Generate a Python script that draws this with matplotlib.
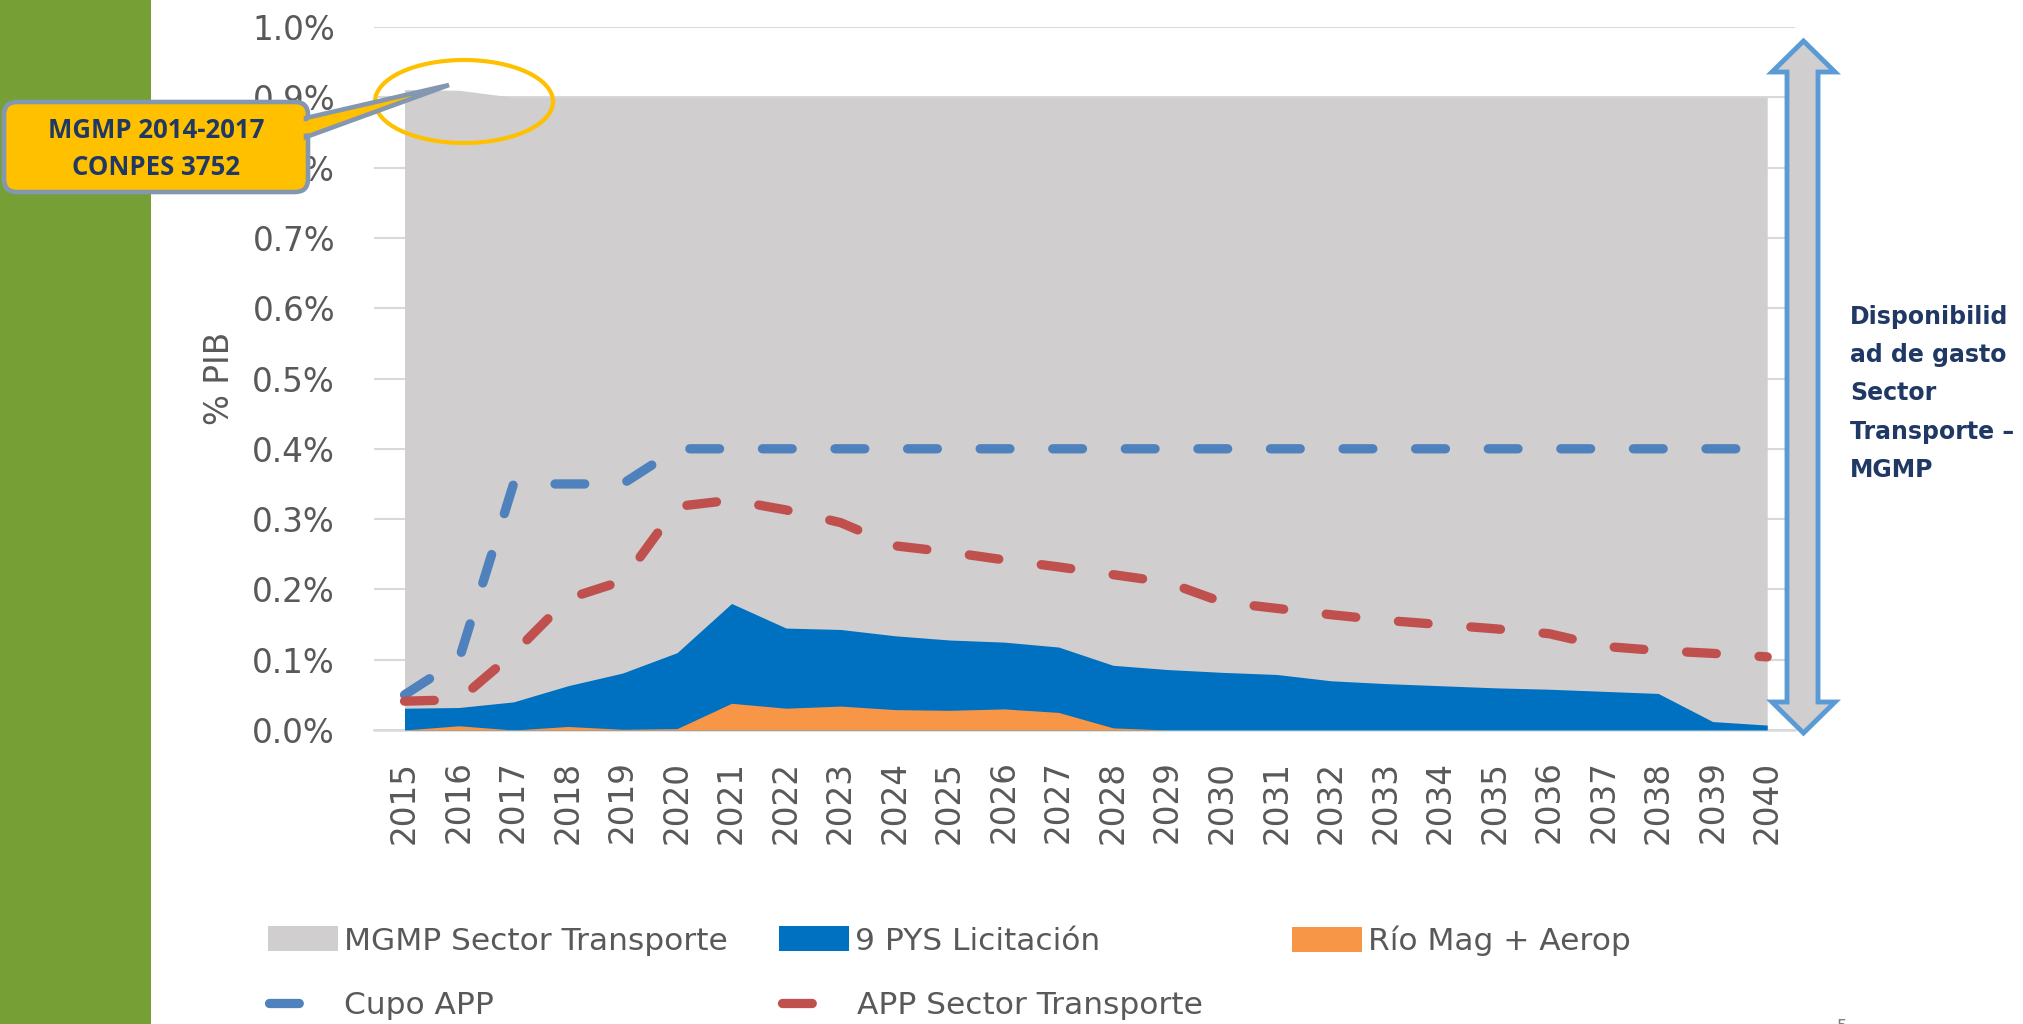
import numpy as np
import matplotlib
matplotlib.use('Agg')
import matplotlib.pyplot as plt
from matplotlib.patches import Ellipse, FancyBboxPatch, Polygon, Rectangle
from matplotlib.ticker import FuncFormatter

# ---------------- data (% of GDP) ----------------
years = ['2015', '2016', '2017', '2018', '2019', '2020', '2021', '2022', '2023',
         '2024', '2025', '2026', '2027', '2028', '2029', '2030', '2031', '2032',
         '2033', '2034', '2035', '2036', '2037', '2038', '2039', '2040']
mgmp = [0.911, 0.910, 0.900, 0.900, 0.900, 0.900, 0.900, 0.900, 0.900, 0.900,
        0.900, 0.900, 0.900, 0.900, 0.900, 0.900, 0.900, 0.900, 0.900, 0.900,
        0.900, 0.900, 0.900, 0.900, 0.900, 0.900]
pys = [0.031, 0.032, 0.040, 0.063, 0.081, 0.110, 0.180, 0.145, 0.143, 0.134,
       0.128, 0.125, 0.118, 0.092, 0.086, 0.082, 0.079, 0.070, 0.066, 0.063,
       0.060, 0.058, 0.055, 0.052, 0.012, 0.007]
rio = [0.000, 0.006, 0.000, 0.005, 0.001, 0.002, 0.038, 0.031, 0.034, 0.029,
       0.028, 0.030, 0.025, 0.003, 0.000, 0.000, 0.000, 0.000, 0.000, 0.000,
       0.000, 0.000, 0.000, 0.000, 0.000, 0.000]
cupo = [0.05, 0.10, 0.35, 0.35, 0.35, 0.40, 0.40, 0.40, 0.40, 0.40, 0.40, 0.40,
        0.40, 0.40, 0.40, 0.40, 0.40, 0.40, 0.40, 0.40, 0.40, 0.40, 0.40, 0.40,
        0.40, 0.40]
app = [0.041, 0.043, 0.109, 0.187, 0.212, 0.318, 0.327, 0.313, 0.295, 0.262,
       0.253, 0.242, 0.232, 0.221, 0.210, 0.182, 0.173, 0.164, 0.156, 0.150,
       0.144, 0.137, 0.119, 0.113, 0.109, 0.104]
yticks = [0.0, 0.1, 0.2, 0.3, 0.4, 0.5, 0.6, 0.7, 0.8, 0.9, 1.0]

series_labels = ['MGMP Sector Transporte', '9 PYS Licitación', 'Río Mag + Aerop',
                 'Cupo APP', 'APP Sector Transporte']

# ---------------- style ----------------
plt.rcParams['font.family'] = ['DejaVu Sans']
TXT = '#595959'
NAVY = '#1F3864'
W, H = 2023, 1024

fig = plt.figure(figsize=(W / 100, H / 100), dpi=100)
fig.patch.set_facecolor('white')

ax = fig.add_axes([374 / W, 1 - 730 / H, (1795 - 374) / W, (730 - 27) / H])
x = np.arange(len(years))

a1 = ax.fill_between(x, 0, mgmp, color='#D0CECE', lw=0, zorder=2)
a2 = ax.fill_between(x, 0, pys, color='#0070C0', lw=0, zorder=3)
a3 = ax.fill_between(x, 0, rio, color='#F79646', lw=0, zorder=4)
l1, = ax.plot(x, cupo, color='#4F81BD', lw=6.7, dashes=(3.2, 4.6),
              dash_capstyle='round', solid_capstyle='round', zorder=5)
l2, = ax.plot(x, app, color='#C0504D', lw=6.7, dashes=(3.2, 4.6),
              dash_capstyle='round', solid_capstyle='round', zorder=6)

ax.set_xlim(-0.56, 25.51)
ax.set_ylim(0, 1.0)
ax.set_yticks(yticks)
ax.yaxis.set_major_formatter(FuncFormatter(lambda v, p: f'{v:.1f}%'))
ax.set_xticks(x)
ax.set_xticklabels(years, rotation=90)
ax.tick_params(axis='y', length=0, pad=28, labelsize=23.5, labelcolor=TXT)
ax.tick_params(axis='x', length=0, pad=22, labelsize=23.5, labelcolor=TXT)
ax.grid(axis='y', color='#D9D9D9', lw=1.5)
ax.set_axisbelow(True)
for s in ['top', 'right', 'left']:
    ax.spines[s].set_visible(False)
ax.spines['bottom'].set_color('#D9D9D9')
ax.spines['bottom'].set_linewidth(1.8)
ax.patch.set_alpha(0)

ax.set_ylabel('% PIB', fontsize=23.5, color=TXT)
ax.yaxis.label.set_va('center')
ax.yaxis.set_label_coords(-0.109, 0.5)

# ---------------- legend ----------------
def put_legend(handle, label, xpx, ypx, kind):
    if kind == 'patch':
        kw = dict(handlelength=2.24, handleheight=0.83, handletextpad=0.19)
    else:
        kw = dict(handlelength=1.02, handletextpad=1.39)
    fig.legend([handle], [label], loc='center left',
               bbox_to_anchor=(xpx / W, 1 - ypx / H), frameon=False,
               borderpad=0, borderaxespad=0,
               prop={'family': 'DejaVu Sans', 'size': 22.5},
               labelcolor=TXT, **kw)

put_legend(a1, series_labels[0], 268, 941, 'patch')
put_legend(a2, series_labels[1], 779, 941, 'patch')
put_legend(a3, series_labels[2], 1292, 941, 'patch')
put_legend(l1, series_labels[3], 269, 1005, 'line')
put_legend(l2, series_labels[4], 782, 1005, 'line')

# ---------------- overlay decorations ----------------
ov = fig.add_axes([0, 0, 1, 1], zorder=10)
ov.set_xlim(0, W)
ov.set_ylim(H, 0)
ov.axis('off')
ov.patch.set_alpha(0)

# green side band
ov.add_patch(Rectangle((0, 0), 151, H, fc='#76A035', ec='none', zorder=1))

# yellow ellipse
ov.add_patch(Ellipse((464, 101.5), 178, 83, fill=False, ec='#FFC000', lw=3, zorder=2))

# callout
ov.add_patch(FancyBboxPatch((4, 102), 304, 90,
                            boxstyle='round,pad=0,rounding_size=13',
                            fc='#FFC000', ec='#8497B0', lw=3.3, zorder=3))
ov.add_patch(Polygon([(306, 118), (449, 85), (306, 137)], closed=True,
                     fc='#FFC000', ec='#8497B0', lw=3.3, joinstyle='miter', zorder=4))
ov.add_patch(Polygon([(296, 121.3), (306, 121.3), (400, 99.8), (306, 133.6), (296, 133.6)],
                     closed=True, fc='#FFC000', ec='none', zorder=5))
ov.text(156, 138, 'MGMP 2014-2017', ha='center', va='baseline', family='Open Sans',
        fontweight='bold', fontsize=18.5, color=NAVY, zorder=6)
ov.text(156, 175, 'CONPES 3752', ha='center', va='baseline', family='Open Sans',
        fontweight='bold', fontsize=18.5, color=NAVY, zorder=6)

# double arrow
arrow_pts = [(1803.5, 41), (1835, 72), (1818, 72), (1818, 702), (1835, 702),
             (1803.5, 733), (1772, 702), (1787, 702), (1787, 72), (1772, 72)]
ov.add_patch(Polygon(arrow_pts, closed=True, fc='#D0CECE', ec='#5B9BD5', lw=3.5,
                     joinstyle='miter', zorder=3))

right_lines = ['Disponibilid', 'ad de gasto', 'Sector', 'Transporte –', 'MGMP']
for txt, yb in zip(right_lines, [324, 362, 400, 439, 477]):
    ov.text(1850, yb, txt, ha='left', va='baseline', fontsize=17, fontweight='bold',
            color=NAVY, family='DejaVu Sans')

ov.text(1837, 1018, '5', ha='left', va='top', fontsize=12, color='#7F7F7F')

fig.savefig('out.png', dpi=100, facecolor='white')
